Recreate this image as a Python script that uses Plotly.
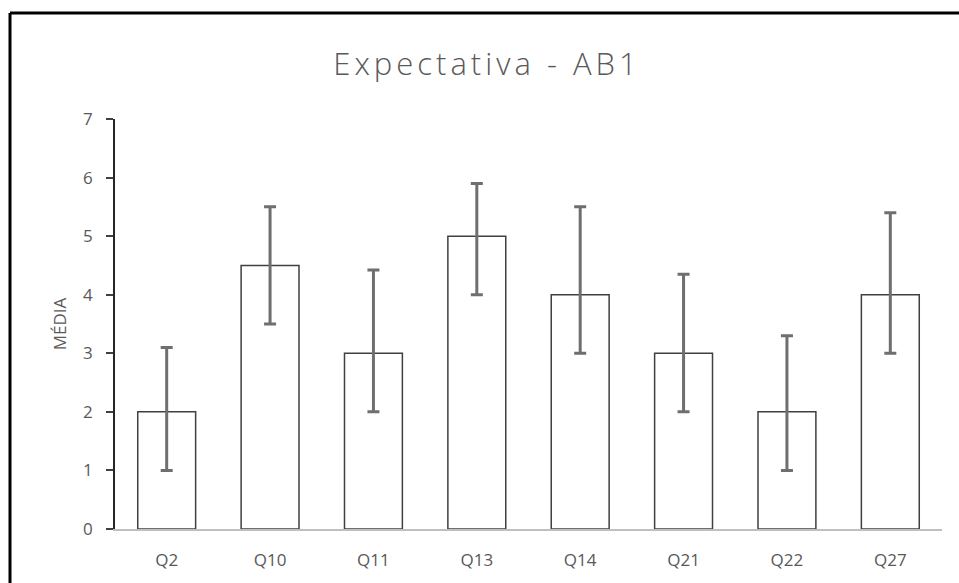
import plotly.graph_objects as go

categories = ["Q2", "Q10", "Q11", "Q13", "Q14", "Q21", "Q22", "Q27"]
means = [2, 4.5, 3, 5, 4, 3, 2, 4]
upper = [3.1, 5.5, 4.42, 5.9, 5.5, 4.35, 3.3, 5.4]
lower = [1, 3.5, 2, 4, 3, 2, 1, 3]
y_ticks = [0, 1, 2, 3, 4, 5, 6, 7]

err_plus = [u - m for u, m in zip(upper, means)]
err_minus = [m - l for m, l in zip(means, lower)]

W, H = 959, 583
L, R, T, B = 115, 17, 119, 54
pw, ph = W - L - R, H - T - B

def px_x(p):
    return (p - L) / pw

def px_y(p):
    return (H - B - p) / ph

fig = go.Figure()
fig.add_trace(go.Bar(
    x=categories, y=means, width=0.56,
    marker=dict(color="white", line=dict(color="#404040", width=1.5)),
    error_y=dict(type="data", symmetric=False, array=err_plus, arrayminus=err_minus,
                 color="#6f6f6f", thickness=3, width=6),
))

fig.update_layout(
    width=W, height=H,
    margin=dict(l=L, r=R, t=T, b=B),
    paper_bgcolor="white", plot_bgcolor="white",
    showlegend=False,
    title=dict(text="Expectativa - AB1", x=487 / W, xref="container", xanchor="center",
               y=1 - 64 / H, yref="container", yanchor="middle",
               font=dict(family="Open Sans", size=31, color="#595959", weight=300)),
    font=dict(family="Open Sans", color="#595959", size=17),
    xaxis=dict(showline=True, linecolor="#bfbfbf", linewidth=2, ticks="",
               showgrid=False, tickfont=dict(size=17, color="#595959"),
               ticklabelstandoff=15),
    yaxis=dict(range=[0, 7], tickvals=y_ticks, showline=True, linecolor="#262626",
               linewidth=1.5, ticks="outside", ticklen=7, tickcolor="#404040",
               tickwidth=1.5, showgrid=False, zeroline=False,
               tickfont=dict(size=17, color="#595959"), ticklabelstandoff=10,
               title=dict(text="MÉDIA", font=dict(size=17, color="#595959"), standoff=12)),
    shapes=[
        dict(type="line", xref="paper", yref="paper", x0=px_x(10), x1=px_x(10),
             y0=px_y(600), y1=px_y(13), line=dict(color="black", width=3)),
        dict(type="line", xref="paper", yref="paper", x0=px_x(10), x1=px_x(980),
             y0=px_y(13), y1=px_y(13), line=dict(color="black", width=3)),
    ],
)

post = (
    "document.body.style.margin='0';"
    "document.body.style.overflow='hidden';"
    "var t=document.querySelector('.gtitle');"
    "if(t){t.style.letterSpacing='4px';}"
)
fig.write_html("out.html", post_script=post, config={"displayModeBar": False})
